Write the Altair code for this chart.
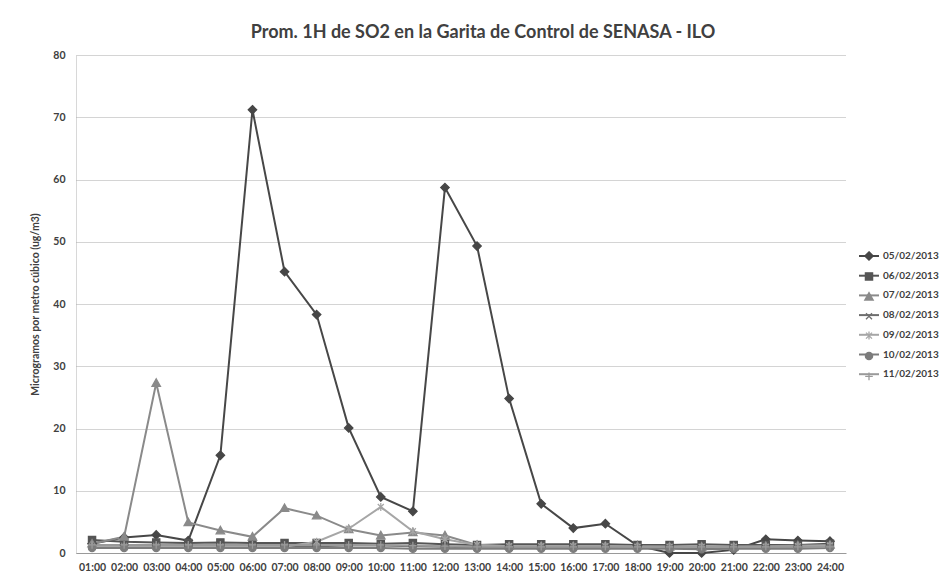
import altair as alt
import pandas as pd

hours = ["01:00", "02:00", "03:00", "04:00", "05:00", "06:00", "07:00", "08:00",
         "09:00", "10:00", "11:00", "12:00", "13:00", "14:00", "15:00", "16:00",
         "17:00", "18:00", "19:00", "20:00", "21:00", "22:00", "23:00", "24:00"]

series_names = ["05/02/2013", "06/02/2013", "07/02/2013", "08/02/2013",
                "09/02/2013", "10/02/2013", "11/02/2013"]

s0502 = [1.5, 2.5, 2.9, 2.0, 15.7, 71.2, 45.2, 38.3, 20.1, 9.0, 6.7, 58.7,
         49.3, 24.8, 7.9, 4.0, 4.7, 1.2, 0.0, 0.0, 0.5, 2.2, 2.0, 1.9]
s0602 = [2.1, 1.8, 1.7, 1.6, 1.7, 1.6, 1.6, 1.6, 1.6, 1.5, 1.6, 1.4,
         1.3, 1.4, 1.4, 1.4, 1.4, 1.3, 1.3, 1.4, 1.3, 1.3, 1.3, 1.5]
s0702 = [1.5, 2.6, 27.3, 4.9, 3.6, 2.6, 7.2, 6.0, 3.8, 2.8, 3.3, 2.8,
         1.3, 1.1, 1.1, 1.1, 1.1, 1.1, 1.0, 1.0, 1.0, 1.1, 1.2, 1.3]
s0802 = [1.2, 1.2, 1.2, 1.1, 1.1, 1.1, 1.1, 1.1, 1.2, 1.2, 1.1, 1.0,
         0.9, 0.9, 0.9, 0.9, 0.9, 0.9, 0.8, 0.8, 0.8, 0.9, 1.0, 1.1]
s0902 = [1.0, 1.0, 1.0, 1.0, 1.0, 1.0, 1.0, 1.8, 3.9, 7.4, 3.5, 2.2,
         1.3, 1.1, 1.1, 1.1, 1.1, 1.0, 1.0, 1.0, 1.0, 1.0, 1.1, 1.2]
s1002 = [0.8, 0.8, 0.8, 0.8, 0.8, 0.8, 0.8, 0.8, 0.8, 0.8, 0.7, 0.7,
         0.7, 0.7, 0.7, 0.7, 0.7, 0.7, 0.7, 0.6, 0.7, 0.7, 0.7, 0.8]
s1102 = [1.3, 1.3, 1.3, 1.3, 1.3, 1.3, 1.3, 1.3, 1.3, 1.3, 1.2, 1.1,
         1.0, 1.0, 1.0, 1.0, 1.0, 1.0, 1.0, 1.0, 1.0, 1.0, 1.0, 1.0]

y_ticks = [0, 10, 20, 30, 40, 50, 60, 70, 80]

series_values = [s0502, s0602, s0702, s0802, s0902, s1002, s1102]

series_colors = ["#474747", "#555555", "#8a8a8a", "#6e6e6e", "#a6a6a6", "#7c7c7c", "#9a9a9a"]
series_shapes = [
    "M0,-0.42L0.42,0L0,0.42L-0.42,0Z",                               # diamond
    "M-0.36,-0.36H0.36V0.36H-0.36Z",                                 # square
    "M0,-0.42L0.42,0.32H-0.42Z",                                     # triangle
    "M-0.3,-0.3L0.3,0.3M-0.3,0.3L0.3,-0.3",                          # x
    "M-0.3,-0.3L0.3,0.3M-0.3,0.3L0.3,-0.3M0,-0.4L0,0.4",             # asterisk
    "M0.36,0A0.36,0.36 0 1,1 -0.36,0A0.36,0.36 0 1,1 0.36,0Z",       # circle
    "M-0.38,0H0.38M0,-0.38V0.38",                                    # plus
]

# marker layer uses its own category keys so its legend (markers only) stays separate
marker_keys = [n + " " for n in series_names]

rows = []
for name, key, vals in zip(series_names, marker_keys, series_values):
    for h, v in zip(hours, vals):
        rows.append({"hora": h, "serie": name, "serie_p": key, "valor": v})
df = pd.DataFrame(rows)

FONT = "Lato"
LEG_X = 782
LEG_Y = 190

x_enc = alt.X("hora:N", sort=hours, title=None,
              axis=alt.Axis(labelAngle=0, labelFont=FONT, labelFontWeight="bold",
                            labelFontSize=10.5, labelColor="#404040", labelPadding=9,
                            ticks=False, domainColor="#9a9a9a", domainWidth=1, grid=False))
y_enc = alt.Y("valor:Q", title="Microgramos por metro cúbico (ug/m3)",
              scale=alt.Scale(domain=[0, 80], nice=False),
              axis=alt.Axis(values=y_ticks, labelFont=FONT, labelFontWeight="bold",
                            labelFontSize=10.5, labelColor="#404040", labelPadding=11,
                            ticks=False, domainColor="#b0b0b0", domainDash=[1, 1],
                            gridColor="#a8a8a8", gridDash=[1, 1], gridWidth=1,
                            titleFont=FONT, titleFontWeight="bold", titleFontSize=10.5,
                            titleColor="#404040", titlePadding=12))

common_leg = dict(title=None, orient="none", legendX=LEG_X, legendY=LEG_Y,
                  symbolSize=400, labelFont=FONT, labelFontWeight="bold", labelFontSize=10,
                  labelOffset=3, padding=0)

lines = alt.Chart(df).mark_line(strokeWidth=2).encode(
    x=x_enc, y=y_enc,
    color=alt.Color("serie:N", sort=series_names,
                    scale=alt.Scale(domain=series_names, range=series_colors),
                    legend=alt.Legend(symbolType="stroke", symbolStrokeWidth=2,
                                      labelColor="#404040", rowPadding=3.7, **common_leg)),
)

pt_legend = alt.Legend(symbolStrokeWidth=1.3, labelOpacity=0, labelExpr="' '",
                       rowPadding=2.4, **common_leg)

points = alt.Chart(df).mark_point(size=400, strokeWidth=1.3, opacity=1).encode(
    x=x_enc, y=y_enc,
    fill=alt.Fill("serie_p:N", sort=marker_keys,
                  scale=alt.Scale(domain=marker_keys, range=series_colors),
                  legend=pt_legend),
    stroke=alt.Stroke("serie_p:N", sort=marker_keys,
                      scale=alt.Scale(domain=marker_keys, range=series_colors),
                      legend=pt_legend),
    shape=alt.Shape("serie_p:N", sort=marker_keys,
                    scale=alt.Scale(domain=marker_keys, range=series_shapes),
                    legend=pt_legend),
)

chart = alt.layer(lines, points).properties(
    width=770, height=498,
    background="white",
    title=alt.TitleParams("Prom. 1H de SO2 en la Garita de Control de SENASA - ILO",
                          font=FONT, fontSize=18, fontWeight="bold", color="#404040",
                          anchor="middle", frame="group", dx=22, offset=8),
    padding={"left": 68, "top": 47, "right": 93, "bottom": 18},
    autosize=alt.AutoSizeParams(type="none"),
).configure_view(stroke=None)

chart.save("out.html", embed_options={"renderer": "svg", "actions": False})
